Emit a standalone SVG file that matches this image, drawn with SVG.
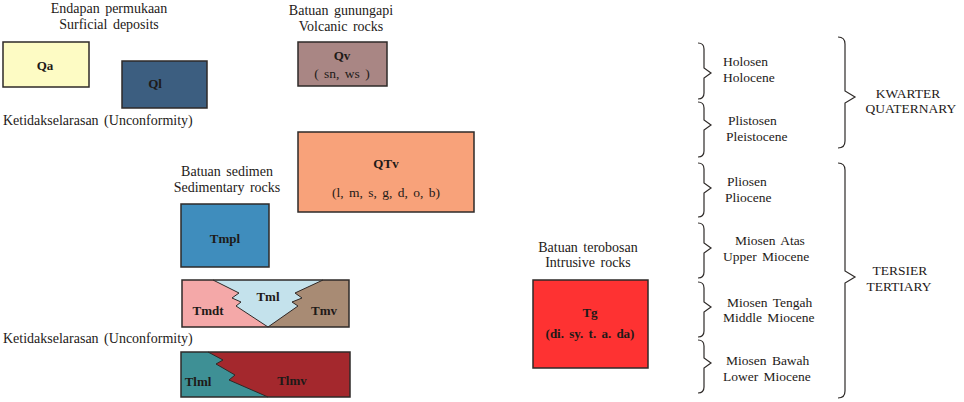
<svg xmlns="http://www.w3.org/2000/svg" width="964" height="402" viewBox="0 0 964 402">
<style>
text{font-family:"Liberation Serif","Times New Roman",serif;font-size:13.5px;fill:#1e1a18;word-spacing:2px}
.c{text-anchor:middle}
.l{font-size:14px}
.b{font-weight:bold;font-size:13px}
.box{stroke:#2e2a28;stroke-width:1.5}
.br{fill:none;stroke:#2e2a28;stroke-width:1.2}
</style>
<rect width="964" height="402" fill="#ffffff"/>
<g id="hdr-surficial">
<text class="c l" x="109" y="13">Endapan permukaan</text>
<text class="c l" x="109" y="29">Surficial deposits</text>
</g>
<g id="Qa"><rect class="box" x="3" y="42" width="86" height="45" fill="#fdfbc4"/><text class="c b" x="45" y="70">Qa</text></g>
<g id="Ql"><rect class="box" x="122" y="61" width="85" height="47" fill="#3c5e80"/><text class="c b" x="155" y="88">Ql</text></g>
<g id="unconf1"><text class="l" x="3" y="125">Ketidakselarasan (Unconformity)</text></g>
<g id="hdr-volcanic">
<text class="c l" x="341" y="15">Batuan gunungapi</text>
<text class="c l" x="341" y="31">Volcanic rocks</text>
</g>
<g id="Qv"><rect class="box" x="298" y="42" width="89" height="44" fill="#a98684"/><text class="c b" x="342" y="60">Qv</text><text class="c" x="342" y="78">( sn, ws )</text></g>
<g id="QTv"><rect class="box" x="298" y="132" width="176" height="80" fill="#f8a27a"/><text class="c b" x="386" y="168">QTv</text><text class="c" x="386" y="197">(l, m, s, g, d, o, b)</text></g>
<g id="hdr-sedimentary">
<text class="c l" x="227" y="176">Batuan sedimen</text>
<text class="c l" x="227" y="192">Sedimentary rocks</text>
</g>
<g id="Tmpl"><rect class="box" x="181" y="204" width="88" height="63" fill="#3f8dbd"/><text class="c b" x="225" y="243">Tmpl</text></g>
<g id="Tmdt-Tml-Tmv">
<rect x="182" y="280" width="167" height="47" fill="#f4a8a8"/>
<polygon points="213,280 323,280 295,293 302,298 292,302 298,306 268,327 236,306 241,302 232,298 239,293" fill="#c4e2ec"/>
<polygon points="323,280 349,280 349,327 268,327 298,306 292,302 302,298 295,293" fill="#a88b74"/>
<polyline points="213,280 239,293 232,298 241,302 236,306 268,327 298,306 292,302 302,298 295,293 323,280" fill="none" stroke="#2e2a28" stroke-width="1"/>
<rect class="box" x="182" y="280" width="167" height="47" fill="none"/>
<text class="c b" x="208" y="315">Tmdt</text>
<text class="c b" x="268" y="301">Tml</text>
<text class="c b" x="324" y="315">Tmv</text>
</g>
<g id="unconf2"><text class="l" x="3" y="343">Ketidakselarasan (Unconformity)</text></g>
<g id="Tlml-Tlmv">
<rect x="181" y="352" width="169" height="45" fill="#3e9095"/>
<polygon points="208,352 350,352 350,397 268,397 229,380 235,375 216,364 223,360" fill="#a4282d"/>
<polyline points="208,352 223,360 216,364 235,375 229,380 268,397" fill="none" stroke="#2e2a28" stroke-width="1"/>
<rect class="box" x="181" y="352" width="169" height="45" fill="none"/>
<text class="c b" x="198" y="386">Tlml</text>
<text class="c b" x="292" y="385">Tlmv</text>
</g>
<g id="hdr-intrusive">
<text class="c l" x="588" y="252">Batuan terobosan</text>
<text class="c l" x="588" y="267">Intrusive rocks</text>
</g>
<g id="Tg"><rect class="box" x="533" y="280" width="115" height="88" fill="#fe3232"/><text class="c b" x="590" y="317">Tg</text><text class="c b" x="590" y="338">(di. sy. t. a. da)</text></g>
<g id="braces">
<path class="br" d="M698 43 Q704 43 704 49 L704 68 L711 73 L704 78 L704 93 Q704 99 698 99"/>
<path class="br" d="M698 102 Q704 102 704 108 L704 120 L711 125 L704 130 L704 151 Q704 157 698 157"/>
<path class="br" d="M698 163 Q704 163 704 169 L704 183 L711 188 L704 193 L704 211 Q704 217 698 217"/>
<path class="br" d="M698 223 Q704 223 704 229 L704 243 L711 248 L704 253 L704 272 Q704 278 698 278"/>
<path class="br" d="M698 282 Q704 282 704 288 L704 302 L711 307 L704 312 L704 331 Q704 337 698 337"/>
<path class="br" d="M698 340 Q704 340 704 346 L704 358 L711 363 L704 368 L704 387 Q704 393 698 393"/>
<path class="br" d="M838 37 Q845 37 845 44 L845 91 L855 97 L845 103 L845 141 Q845 148 838 148"/>
<path class="br" d="M838 163 Q845 163 845 170 L845 271 L855 277 L845 283 L845 391 Q845 398 838 398"/>
</g>
<g id="epochs">
<text x="723" y="66">Holosen</text><text x="723" y="82">Holocene</text>
<text x="728" y="125">Plistosen</text><text x="726" y="141">Pleistocene</text>
<text x="727" y="186">Pliosen</text><text x="725" y="202">Pliocene</text>
<text x="735" y="245">Miosen Atas</text><text x="723" y="261">Upper Miocene</text>
<text x="727" y="307">Miosen Tengah</text><text x="723" y="322">Middle Miocene</text>
<text x="726" y="365">Miosen Bawah</text><text x="723" y="381">Lower Miocene</text>
</g>
<g id="periods">
<text class="c" x="908" y="98">KWARTER</text><text class="c" x="911" y="113">QUATERNARY</text>
<text class="c" x="900" y="275">TERSIER</text><text class="c" x="899" y="291">TERTIARY</text>
</g>
</svg>
